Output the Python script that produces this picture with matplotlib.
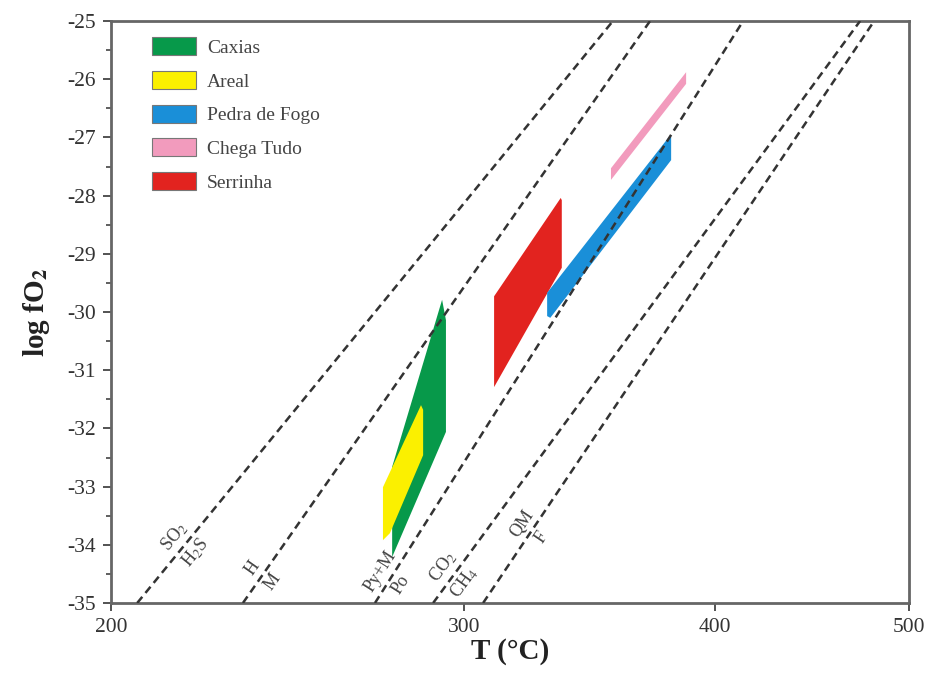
import numpy as np
import matplotlib.pyplot as plt
from matplotlib.patches import Patch

plt.rcParams['font.family'] = ['Liberation Serif', 'DejaVu Serif']
plt.rcParams['mathtext.fontset'] = 'stix'
plt.rcParams['axes.unicode_minus'] = False

# buffer / equilibrium lines, straight between log fO2 = -35 and -25
line_T_low = [206.1, 232.7, 270.8, 289.5, 306.6]
line_T_high = [355.9, 371.4, 413.3, 472.7, 480.4]
line_f_low = -35.0
line_f_high = -25.0
label_upper = ['SO$_2$', 'H', 'Py+M', 'CO$_2$', 'QM']
label_lower = ['H$_2$S', 'M', 'Po', 'CH$_4$', 'F']
label_f = [-34.0, -34.52, -34.57, -34.52, -33.75]

# fields of each formation (T in C, log fO2)
caxias_T = [292.5, 293.8, 293.8, 276.2, 276.2]
caxias_f = [-29.79, -30.14, -32.06, -34.21, -32.66]
areal_T = [285.5, 286.2, 286.2, 275.5, 273.3, 273.3]
areal_f = [-31.60, -31.68, -32.46, -33.80, -33.92, -33.01]
pedra_T = [330.0, 379.2, 380.5, 380.5, 331.2, 330.0]
pedra_f = [-29.67, -27.01, -26.99, -27.39, -30.10, -30.07]
chega_T = [355.1, 387.1, 387.1, 355.1]
chega_f = [-27.53, -25.88, -26.08, -27.73]
serrinha_T = [335.2, 335.6, 335.6, 310.5, 310.5]
serrinha_f = [-28.04, -28.08, -29.24, -31.29, -29.73]

names = ['Caxias', 'Areal', 'Pedra de Fogo', 'Chega Tudo', 'Serrinha']
colors = ['#07994a', '#fbf000', '#1a8fd8', '#f29bbd', '#e2231f']

fig = plt.figure(figsize=(9.3, 6.84), dpi=100)
ax = fig.add_subplot(111)
fig.subplots_adjust(left=0.1194, right=0.9774, top=0.9693, bottom=0.1184)

ax.set_xscale('log')
ax.set_xlim(200, 500)
ax.set_ylim(-35, -25)

ax.fill(caxias_T, caxias_f, color=colors[0], lw=0, zorder=2)
ax.fill(areal_T, areal_f, color=colors[1], lw=0, zorder=2)
ax.fill(serrinha_T, serrinha_f, color=colors[4], lw=0, zorder=2)
ax.fill(pedra_T, pedra_f, color=colors[2], lw=0, zorder=2)
ax.fill(chega_T, chega_f, color=colors[3], lw=0, zorder=2)

for i in range(len(line_T_low)):
    ax.plot([line_T_low[i], line_T_high[i]], [line_f_low, line_f_high],
            color='#333333', lw=1.8, dashes=(3.2, 2.0), zorder=3)
    # label sits across the line like a fraction
    p0 = ax.transData.transform((line_T_low[i], line_f_low))
    p1 = ax.transData.transform((line_T_high[i], line_f_high))
    ang = np.degrees(np.arctan2(p1[1] - p0[1], p1[0] - p0[0]))
    t = (label_f[i] - line_f_low) / (line_f_high - line_f_low)
    T_at = 10 ** (np.log10(line_T_low[i]) + t * (np.log10(line_T_high[i]) - np.log10(line_T_low[i])))
    nx, ny = -np.sin(np.radians(ang)), np.cos(np.radians(ang))
    g = 2.5
    ax.annotate(label_upper[i], xy=(T_at, label_f[i]), xytext=(nx * g, ny * g),
                textcoords='offset points', rotation=ang, rotation_mode='anchor',
                ha='center', va='bottom', fontsize=13, color='#444444', zorder=4)
    ax.annotate(label_lower[i], xy=(T_at, label_f[i]), xytext=(-nx * g, -ny * g),
                textcoords='offset points', rotation=ang, rotation_mode='anchor',
                ha='center', va='top', fontsize=13, color='#444444', zorder=4)

ax.set_xticks([200, 300, 400, 500])
ax.set_xticklabels(['200', '300', '400', '500'])
ax.xaxis.set_minor_locator(plt.NullLocator())
ax.set_yticks(np.arange(-35, -24, 1))
ax.set_yticklabels(['%d' % v for v in np.arange(-35, -24, 1)])
ax.set_yticks(np.arange(-35, -24.9, 0.5), minor=True)

ax.tick_params(axis='both', which='major', direction='out', length=6, width=1.3,
               color='#444444', labelcolor='#333333', labelsize=15.5, pad=5)
ax.tick_params(axis='y', which='minor', direction='out', length=3.5, width=1.2, color='#444444')
for s in ax.spines.values():
    s.set_linewidth(2)
    s.set_color('#666666')

ax.set_xlabel('T (°C)', fontsize=21, fontweight='bold', color='#222222')
ax.xaxis.set_label_coords(0.5, -0.06)
ax.set_ylabel(r'log fO$_\mathbf{2}$', fontsize=21, fontweight='bold', color='#222222')
ax.yaxis.set_label_coords(-0.074, 0.5)

handles = [Patch(facecolor=c, edgecolor='#777777', lw=0.8) for c in colors]
ax.legend(handles, names, loc='upper left', bbox_to_anchor=(0.051, 0.972),
          frameon=False, borderpad=0, borderaxespad=0, handlelength=2.3,
          handleheight=1.05, handletextpad=0.55, labelspacing=0.72,
          prop={'size': 14}, labelcolor='#444444')

fig.savefig('out.png', dpi=100)
